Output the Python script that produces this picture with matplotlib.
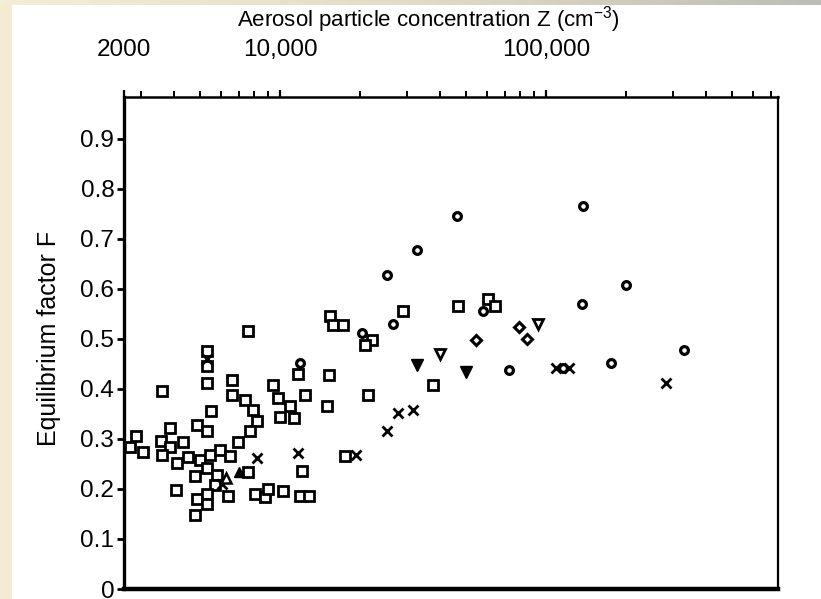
"""Equilibrium factor F versus aerosol particle concentration (scanned figure redraw)."""
import numpy as np
import matplotlib
matplotlib.use("Agg")
import matplotlib.pyplot as plt
from matplotlib.patches import Rectangle
from matplotlib.colors import LinearSegmentedColormap
from matplotlib.ticker import FixedLocator, FixedFormatter, LogLocator, NullFormatter

# --- data: concentration Z (cm^-3), equilibrium factor F ---
SQ_Z = [2870, 2730, 3060, 3600, 3860, 3570, 3860, 3600, 4320, 4100,
        4060, 4510, 4880, 5320, 5000, 5460, 5950, 6490, 4790, 5320,
        5800, 5700, 6380, 4880, 5320, 4790, 5320, 5320, 5320, 5320,
        5500, 6600, 6600, 7390, 7920, 8200, 7710, 6950, 7580, 7580,
        9830, 10900, 10000, 11290, 12420, 9410, 11690, 12100, 8050, 8780,
        9010, 10260, 11890, 12850, 15280, 15020, 15420, 15820, 17250, 22180,
        20870, 21420, 17550, 29000, 37600, 46700, 60530, 64340]
SQ_F = [0.306, 0.284, 0.274, 0.395, 0.322, 0.296, 0.284, 0.268, 0.294, 0.252,
        0.197, 0.264, 0.328, 0.316, 0.258, 0.268, 0.278, 0.266, 0.225, 0.242,
        0.228, 0.207, 0.185, 0.179, 0.189, 0.147, 0.169, 0.411, 0.445, 0.475,
        0.356, 0.417, 0.387, 0.378, 0.358, 0.336, 0.316, 0.294, 0.234, 0.515,
        0.381, 0.366, 0.344, 0.342, 0.387, 0.407, 0.429, 0.236, 0.189, 0.183,
        0.199, 0.195, 0.185, 0.185, 0.427, 0.366, 0.546, 0.527, 0.527, 0.497,
        0.487, 0.387, 0.266, 0.556, 0.407, 0.566, 0.580, 0.566]

CROSS_Z = [5320, 6050, 8200, 11690, 19310, 25260, 27770, 31620, 109000, 122000, 282500]
CROSS_F = [0.459, 0.209, 0.262, 0.272, 0.268, 0.316, 0.352, 0.358, 0.441, 0.441, 0.411]

CIRC_Z = [11890, 20340, 25260, 26600, 32730, 46290, 57970, 72580, 115800, 136600,
          137800, 175500, 200000, 330300]
CIRC_F = [0.451, 0.511, 0.628, 0.530, 0.678, 0.745, 0.556, 0.437, 0.441, 0.570,
          0.765, 0.451, 0.608, 0.477]

DIAM_Z = [54560, 79150, 84850]
DIAM_F = [0.497, 0.523, 0.499]

TRI_DN_FILL_Z = [32730, 50030]
TRI_DN_FILL_F = [0.447, 0.433]
TRI_DN_OPEN_Z = [39950, 93300]
TRI_DN_OPEN_F = [0.469, 0.529]
TRI_UP_FILL_Z = [7010]
TRI_UP_FILL_F = [0.234]
TRI_UP_OPEN_Z = [6270]
TRI_UP_OPEN_F = [0.221]

Y_TICKS = [0, 0.1, 0.2, 0.3, 0.4, 0.5, 0.6, 0.7, 0.8, 0.9]
Y_TICK_LABELS = ["0", "0.1", "0.2", "0.3", "0.4", "0.5", "0.6", "0.7", "0.8", "0.9"]
X_MIN, X_MAX = 2590, 745000
TOP_TICKS = [X_MIN, 1e4, 1e5]
TOP_TICK_LABELS = ["2000", "10,000", "100,000"]

plt.rcParams.update({
    "font.family": ["Liberation Sans", "DejaVu Sans"],
    "mathtext.default": "regular",
    "font.size": 16,
})

fig = plt.figure(figsize=(8.21, 5.99), dpi=100)
fig.patch.set_facecolor("#F3ECD3")

# top strip: beige fading to grey, as in the slide background
strip = fig.add_axes([0, 594 / 599, 1, 5 / 599])
grad = np.linspace(0, 1, 256)[None, :]
strip.imshow(grad, aspect="auto", extent=[0, 1, 0, 1],
             cmap=LinearSegmentedColormap.from_list("bg", ["#F5EED6", "#E2DCC6", "#BDBDB6"]))
strip.set_axis_off()
fig.add_artist(Rectangle((12 / 821, 0), 1 - 12 / 821, 594 / 599, transform=fig.transFigure,
                         facecolor="white", edgecolor="none", zorder=0))

ax = fig.add_axes([124 / 821, 10 / 599, 654 / 821, 492 / 599])
ax.set_facecolor("white")

ax.plot(SQ_Z, SQ_F, ls="none", marker="s", ms=6.6, mfc="white", mec="black", mew=2.0)
ax.plot(CROSS_Z, CROSS_F, ls="none", marker="x", ms=6.5, mec="black", mew=2.0)
ax.plot(CIRC_Z, CIRC_F, ls="none", marker="o", ms=5.6, mfc="white", mec="black", mew=2.3)
ax.plot(DIAM_Z, DIAM_F, ls="none", marker="D", ms=5.0, mfc="white", mec="black", mew=2.2)
ax.plot(TRI_DN_FILL_Z, TRI_DN_FILL_F, ls="none", marker="v", ms=8.5, mfc="black", mec="black")
ax.plot(TRI_DN_OPEN_Z, TRI_DN_OPEN_F, ls="none", marker="v", ms=7.5, mfc="white", mec="black", mew=2.0)
ax.plot(TRI_UP_FILL_Z, TRI_UP_FILL_F, ls="none", marker="^", ms=7.5, mfc="black", mec="black")
ax.plot(TRI_UP_OPEN_Z, TRI_UP_OPEN_F, ls="none", marker="^", ms=6.5, mfc="white", mec="black", mew=1.8)

ax.set_xscale("log")
ax.set_xlim(X_MIN, X_MAX)
ax.set_ylim(0, 0.983)

# y axis
ax.set_yticks(Y_TICKS)
ax.set_yticklabels(Y_TICK_LABELS)
ax.tick_params(axis="y", which="major", direction="out", length=5, width=2, pad=2,
               labelsize=17.5, left=True, right=False)
ax.tick_params(axis="y", which="minor", left=False, right=False)
ax.set_ylabel("Equilibrium factor F", fontsize=18)
ax.yaxis.set_label_coords(-0.115, 0.509)
ax.yaxis.label.set_va("center")

# x axis drawn on top only
ax.xaxis.set_label_position("top")
ax.xaxis.set_major_locator(FixedLocator(TOP_TICKS))
ax.xaxis.set_major_formatter(FixedFormatter(TOP_TICK_LABELS))
ax.xaxis.set_minor_locator(LogLocator(base=10, subs=np.arange(2, 10)))
ax.xaxis.set_minor_formatter(NullFormatter())
ax.tick_params(axis="x", which="both", top=True, bottom=False,
               labeltop=True, labelbottom=False, direction="out")
ax.tick_params(axis="x", which="major", length=5, width=1.6, pad=21, labelsize=17.5)
ax.tick_params(axis="x", which="minor", length=4, width=1.4)
ax.set_xlabel("Aerosol particle concentration Z (cm$^{-3}$)", fontsize=16)
ax.xaxis.set_label_coords(0.465, 1.157)
ax.xaxis.label.set_va("center")

for side, lw in (("left", 2.4), ("top", 1.8), ("right", 1.6), ("bottom", 3.2)):
    ax.spines[side].set_linewidth(lw)
    ax.spines[side].set_color("black")

fig.savefig("out.png", dpi=100, facecolor=fig.get_facecolor())
